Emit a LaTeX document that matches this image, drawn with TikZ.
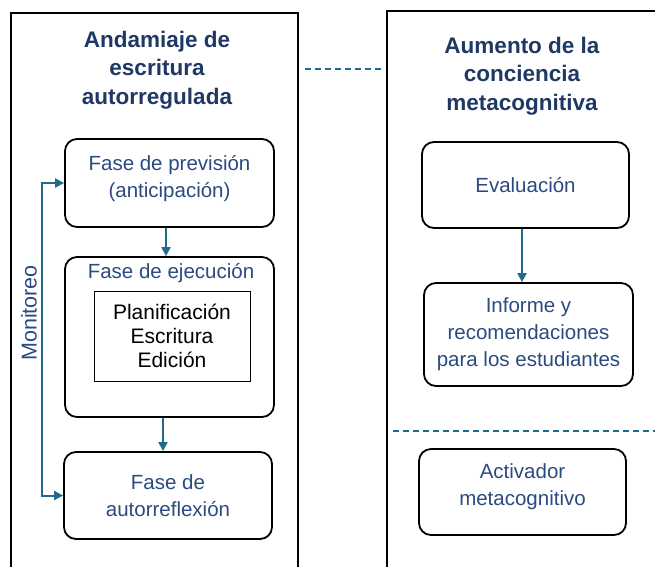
\documentclass[tikz,border=0pt]{standalone}
\usepackage{fontspec}
\setmainfont{Liberation Sans}
\usetikzlibrary{arrows.meta}
\definecolor{azuloscuro}{HTML}{1F3864}
\definecolor{azultexto}{HTML}{2A4A80}
\definecolor{azulflecha}{HTML}{1F6B8C}

\begin{document}
\begin{tikzpicture}[x=1pt,y=-1pt,
  fase/.style={draw,line width=1.8pt,rounded corners=12pt,align=center,text=azultexto,
    font=\fontsize{20.5}{27}\selectfont},
  titulo/.style={align=center,text=azuloscuro,font=\fontsize{22.5}{28.5}\selectfont\bfseries},
  marco/.style={line width=1.8pt},
  punta/.style={-{Triangle[length=9pt,width=9pt]}},
  flecha/.style={draw=azulflecha,line width=2pt,punta},
  guion/.style={draw=azulflecha,line width=1.5pt,dash pattern=on 6pt off 4pt}]
\useasboundingbox (0,0) rectangle (655,566);

% marcos
\draw[marco] (11,575) |- (298,13) -- (298,575);
\draw[marco] (387,575) |- (665,11);

\node[titulo] (tizq) at (157,70) {Andamiaje de\\escritura\\autorregulada};
\node[titulo] (tder) at (522,76) {Aumento de la\\conciencia\\metacognitiva};

% columna izquierda
\node[fase,minimum width=209pt,minimum height=88pt,text depth=14pt] (prev) at (169.5,183) {Fase de previsión\\(anticipación)};
\node[fase,minimum width=209pt,minimum height=160pt] (ejec) at (169.5,337) {};
\node[text=azultexto,font=\fontsize{20.5}{27}\selectfont] (ejectit) at (171,273) {Fase de ejecución};
\node[draw,line width=0.9pt,minimum width=156pt,minimum height=90pt,align=center,
  font=\fontsize{21}{24}\selectfont] (pasos) at (172,336) {Planificación\\Escritura\\Edición};
\node[fase,minimum width=208pt,minimum height=87pt] (refl) at (168,495.5) {Fase de\\autorreflexión};

\draw[flecha] ([xshift=-3.5pt]prev.south) -- ([xshift=-3.5pt]prev.south |- ejec.north);
\draw[flecha] ([xshift=-6.5pt]ejec.south) -- ([xshift=-6.5pt]ejec.south |- refl.north);

\coordinate (mon) at (42,340);
\draw[flecha,{Triangle[length=9pt,width=9pt]}-{Triangle[length=9pt,width=9pt]}]
  (prev.west) -- (prev.west -| mon) -- (refl.west -| mon) -- (refl.west);
\node[rotate=90,text=azultexto,font=\fontsize{21.5}{24}\selectfont] (monlab) at (29,313) {Monitoreo};

% columna derecha
\node[fase,minimum width=207pt,minimum height=86pt] (eval) at (525.5,185) {Evaluación};
\node[fase,minimum width=209pt,minimum height=103pt] (inf) at (528.5,334.5) {Informe y\\recomendaciones\\para los estudiantes};
\node[fase,minimum width=207pt,minimum height=86pt,text depth=14pt] (activ) at (522.5,492) {Activador\\metacognitivo};

\draw[flecha] ([xshift=-3.5pt]eval.south) -- ([xshift=-3.5pt]eval.south |- inf.north);

% separaciones
\coordinate (g1a) at (305,69);
\coordinate (g1b) at (382,69);
\coordinate (g2a) at (393,431);
\coordinate (g2b) at (655,431);
\draw[guion] (g1a) -- (g1b);
\draw[guion] (g2a) -- (g2b);
\end{tikzpicture}
\end{document}
